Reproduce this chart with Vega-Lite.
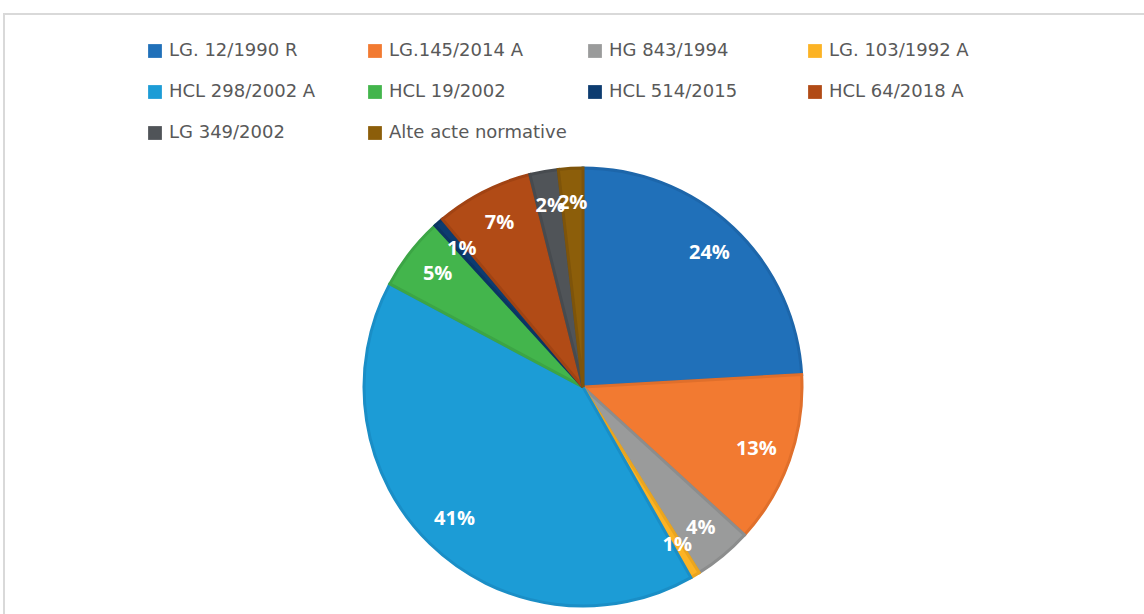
{
  "$schema": "https://vega.github.io/schema/vega-lite/v6.json",
  "width": 1158,
  "height": 746,
  "autosize": {"type": "none"},
  "padding": {"left": 4, "top": 14, "right": 0, "bottom": 0},
  "background": "white",
  "data": {
    "values": [
      {"i": 1, "act": "LG. 12/1990 R", "share": 0.241},
      {"i": 2, "act": "LG.145/2014 A", "share": 0.127},
      {"i": 3, "act": "HG 843/1994", "share": 0.043},
      {"i": 4, "act": "LG. 103/1992 A", "share": 0.007},
      {"i": 5, "act": "HCL 298/2002 A", "share": 0.410},
      {"i": 6, "act": "HCL 19/2002", "share": 0.054},
      {"i": 7, "act": "HCL 514/2015", "share": 0.007},
      {"i": 8, "act": "HCL 64/2018 A", "share": 0.072},
      {"i": 9, "act": "LG 349/2002", "share": 0.021},
      {"i": 10, "act": "Alte acte normative", "share": 0.018}
    ]
  },
  "layer": [
    {
      "mark": {"type": "rect", "fill": null, "stroke": "#d9d9d9", "strokeWidth": 1.5},
      "encoding": {}
    },
    {
      "mark": {"type": "arc", "radius": 219, "strokeWidth": 3},
      "encoding": {
        "theta": {"field": "share", "type": "quantitative", "stack": true},
        "order": {"field": "i", "type": "quantitative"},
        "color": {
          "field": "act",
          "type": "nominal",
          "scale": {
            "domain": ["LG. 12/1990 R", "LG.145/2014 A", "HG 843/1994", "LG. 103/1992 A", "HCL 298/2002 A", "HCL 19/2002", "HCL 514/2015", "HCL 64/2018 A", "LG 349/2002", "Alte acte normative"],
            "range": ["#2070b9", "#f27a31", "#9a9b9b", "#fcb324", "#1c9cd6", "#43b54c", "#0d3c70", "#b14b16", "#505458", "#8c5e0a"]
          },
          "legend": {
            "orient": "none",
            "legendX": 142,
            "legendY": 28,
            "direction": "horizontal",
            "columns": 4,
            "gridAlign": "all",
            "title": null,
            "symbolType": "square",
            "symbolSize": 190,
            "symbolStrokeWidth": 0,
            "symbolOpacity": 1,
            "labelFont": "DejaVu Sans",
            "labelFontSize": 18,
            "labelColor": "#595959",
            "labelOffset": 5,
            "labelLimit": 300,
            "columnPadding": 19,
            "rowPadding": 23
          }
        },
        "stroke": {
          "field": "act",
          "type": "nominal",
          "scale": {
            "domain": ["LG. 12/1990 R", "LG.145/2014 A", "HG 843/1994", "LG. 103/1992 A", "HCL 298/2002 A", "HCL 19/2002", "HCL 514/2015", "HCL 64/2018 A", "LG 349/2002", "Alte acte normative"],
            "range": ["#1d66aa", "#e06f2b", "#8c8d8d", "#eaa51f", "#1a8ec6", "#3ca545", "#0b3563", "#a14313", "#474b4f", "#7e540a"]
          },
          "legend": null
        }
      }
    },
    {
      "mark": {"type": "text", "radius": 184, "color": "white", "font": "Open Sans", "fontWeight": "bold", "fontSize": 20},
      "encoding": {
        "theta": {"field": "share", "type": "quantitative", "stack": true},
        "order": {"field": "i", "type": "quantitative"},
        "text": {"field": "share", "type": "quantitative", "format": ".0%"}
      }
    }
  ]
}
